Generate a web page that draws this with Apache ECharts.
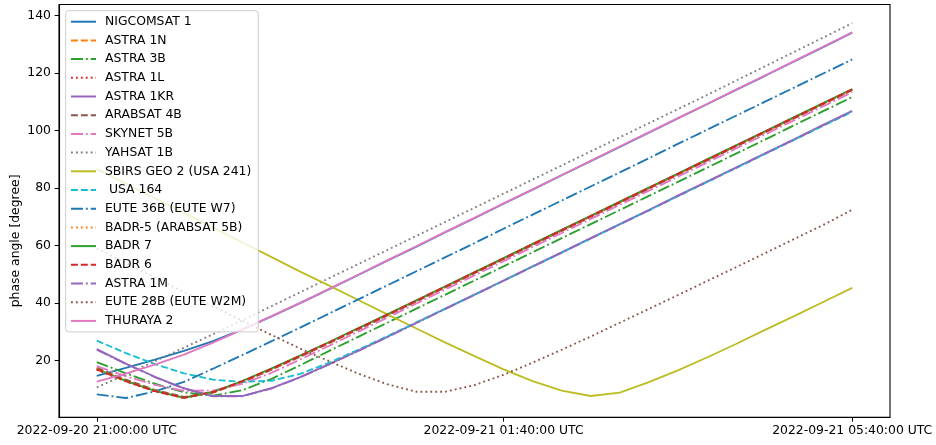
<!DOCTYPE html>
<html><head><meta charset="utf-8">
<script src="https://cdn.jsdelivr.net/npm/echarts@6/dist/echarts.min.js"></script>
<style>html,body{margin:0;padding:0;background:#fff}#c{width:936px;height:445px}</style>
</head><body><div id="c"></div>
<script>
// minutes since 2022-09-20 21:00:00 UTC
const minutes = [0,20,40,60,80,100,120,140,160,180,200,220,240,260,280,300,320,340,360,380,400,420,440,460,480,500,520];
const xTickValues = [0,280,520];
const xTickLabels = ['2022-09-20 21:00:00 UTC','2022-09-21 01:40:00 UTC','2022-09-21 05:40:00 UTC'];
const yTickValues = [20,40,60,80,100,120,140];

const nigcomsat1 = [14.7,17.5,20.4,23.4,26.8,30.8,35.3,40.0,44.9,49.8,54.8,59.7,64.7,69.6,74.6,79.5,84.5,89.4,94.4,99.3,104.3,109.2,114.2,119.1,124.1,129.1,134.1];
const astra1n = [17.3,13.2,9.6,7.2,9.0,12.7,17.0,21.6,26.3,31.1,35.9,40.8,45.7,50.6,55.5,60.4,65.3,70.2,75.1,80.0,84.9,89.8,94.7,99.6,104.5,109.4,114.3];
const astra3b = [19.5,15.6,12.0,9.0,7.8,9.7,13.6,18.4,23.4,28.3,33.2,38.1,43.0,47.9,52.8,57.7,62.6,67.5,72.4,77.3,82.2,87.1,92.0,96.9,101.9,106.8,111.7];
const astra1l = [16.8,12.8,9.3,7.0,9.0,12.7,17.0,21.6,26.3,31.1,35.9,40.8,45.7,50.6,55.5,60.4,65.3,70.2,75.1,80.0,84.9,89.8,94.7,99.6,104.5,109.4,114.3];
const astra1kr = [24.0,19.0,14.4,10.4,7.7,7.7,10.4,14.3,18.8,23.5,28.3,33.2,38.1,43.0,47.9,52.8,57.7,62.6,67.5,72.4,77.4,82.3,87.2,92.1,97.0,102.0,106.9];
const arabsat4b = [17.5,13.4,9.8,7.4,8.9,12.5,16.8,21.4,26.1,30.9,35.7,40.6,45.5,50.4,55.3,60.2,65.1,70.0,74.9,79.8,84.7,89.6,94.5,99.4,104.3,109.2,114.1];
const skynet5b = [18.1,14.6,11.6,9.5,9.6,11.9,15.7,20.4,25.2,30.1,35.0,39.9,44.8,49.7,54.6,59.5,64.4,69.3,74.2,79.1,84.0,88.9,93.8,98.7,103.6,108.5,113.4];
const yahsat1b = [10.7,15.2,19.8,24.5,29.2,34.0,38.9,43.8,48.7,53.6,58.5,63.4,68.3,73.2,78.1,83.0,87.9,92.8,97.7,102.6,107.5,112.4,117.4,122.4,127.4,132.4,137.4];
const sbirsGeo2 = [86.7,81.6,76.5,71.4,66.3,61.2,56.1,51.0,46.1,41.1,36.1,31.2,26.3,21.6,17.0,12.9,9.6,7.7,8.9,12.5,16.6,21.1,25.8,30.7,35.5,40.4,45.3];
const usa164 = [27.0,22.6,18.8,15.6,13.4,12.6,13.0,15.4,19.3,23.8,28.5,33.3,38.1,42.9,47.8,52.7,57.6,62.5,67.4,72.3,77.2,82.1,87.0,91.9,96.8,101.7,106.6];
const eute36b = [8.3,7.0,9.3,12.6,17.2,21.9,26.7,31.5,36.4,41.3,46.2,51.1,56.0,60.9,65.9,70.8,75.7,80.6,85.5,90.4,95.4,100.3,105.2,110.1,115.0,119.9,124.8];
const badr5 = [17.2,13.1,9.6,7.2,9.0,12.7,17.0,21.6,26.3,31.1,35.9,40.8,45.7,50.6,55.5,60.4,65.3,70.2,75.1,80.0,84.9,89.8,94.7,99.6,104.5,109.4,114.3];
const badr7 = [17.1,13.0,9.5,7.1,9.1,12.9,17.2,21.8,26.5,31.3,36.1,41.0,45.9,50.8,55.7,60.6,65.5,70.4,75.3,80.2,85.1,90.0,94.9,99.8,104.7,109.6,114.5];
const badr6 = [17.0,12.9,9.4,7.1,9.1,12.8,17.1,21.7,26.4,31.2,36.0,40.9,45.8,50.7,55.6,60.5,65.4,70.3,75.2,80.1,85.0,89.9,94.8,99.7,104.6,109.5,114.4];
const astra1m = [23.8,18.9,14.3,10.3,7.6,7.6,10.3,14.2,18.7,23.4,28.2,33.1,38.0,42.9,47.8,52.7,57.6,62.5,67.4,72.3,77.3,82.2,87.1,92.0,96.9,101.9,106.8];
const eute28b = [59.0,54.0,48.9,43.9,38.9,33.9,29.0,24.2,19.8,15.5,11.8,9.2,9.2,11.5,15.1,19.3,23.8,28.4,33.2,38.0,42.8,47.7,52.5,57.4,62.3,67.2,72.5];
const thuraya2 = [12.7,15.5,18.6,22.1,26.3,30.8,35.4,40.1,45.0,49.9,54.9,59.8,64.8,69.7,74.7,79.6,84.6,89.5,94.5,99.4,104.4,109.3,114.3,119.2,124.2,129.2,134.2];

const seriesNames = ['NIGCOMSAT 1','ASTRA 1N','ASTRA 3B','ASTRA 1L','ASTRA 1KR','ARABSAT 4B','SKYNET 5B','YAHSAT 1B','SBIRS GEO 2 (USA 241)',' USA 164','EUTE 36B (EUTE W7)','BADR-5 (ARABSAT 5B)','BADR 7','BADR 6','ASTRA 1M','EUTE 28B (EUTE W2M)','THURAYA 2'];
const seriesValues = [nigcomsat1,astra1n,astra3b,astra1l,astra1kr,arabsat4b,skynet5b,yahsat1b,sbirsGeo2,usa164,eute36b,badr5,badr7,badr6,astra1m,eute28b,thuraya2];

// styles
const colors = ['#1f77b4','#ff7f0e','#2ca02c','#d62728','#9467bd','#8c564b','#e377c2','#7f7f7f','#bcbd22','#17becf','#1f77b4','#ff7f0e','#2ca02c','#d62728','#9467bd','#8c564b','#e377c2'];
const DASH = [6.9,3.0], DASHDOT = [11.9,3.0,1.86,3.0], DOT = [1.86,3.07];
const dashes = ['solid',DASH,DASHDOT,DOT,'solid',DASH,DASHDOT,DOT,'solid',DASH,DASHDOT,DOT,'solid',DASH,DASHDOT,DOT,'solid'];
const FONT = 'DejaVu Sans';
const FS = 12.4;

const series = seriesNames.map((name, i) => ({
  name: name,
  type: 'line',
  data: minutes.map((m, j) => [m, seriesValues[i][j]]),
  symbol: 'none',
  showSymbol: false,
  smooth: false,
  animation: false,
  color: colors[i],
  lineStyle: { color: colors[i], width: 1.86, type: dashes[i], cap: 'butt' },
  z: 2 + i * 0.01
}));

const chart = echarts.init(document.getElementById('c'), null, { renderer: 'canvas' });
chart.setOption({
  animation: false,
  backgroundColor: '#ffffff',
  textStyle: { fontFamily: FONT },
  grid: { left: 59, right: 46, top: 4.5, bottom: 27.7, show: true, borderColor: '#000', borderWidth: 1.1, backgroundColor: 'transparent', containLabel: false, outerBoundsMode: 'none' },
  xAxis: {
    type: 'value', min: -26, max: 546,
    splitLine: { show: false },
    axisLine: { show: true, onZero: false, lineStyle: { color: '#000', width: 1.1 } },
    axisTick: { show: true, customValues: xTickValues, length: 4.3, lineStyle: { color: '#000', width: 1 } },
    axisLabel: { show: true, customValues: xTickValues, margin: 7, color: '#000', fontFamily: FONT, fontSize: FS,
      formatter: v => { const k = xTickValues.indexOf(v); return k >= 0 ? xTickLabels[k] : ''; } }
  },
  yAxis: {
    type: 'value', min: 0.3, max: 143.9,
    name: 'phase angle [degree]', nameLocation: 'middle', nameGap: 37, nameMoveOverlap: false,
    nameTextStyle: { color: '#000', fontFamily: FONT, fontSize: FS, padding: [0, 60, 0, 0] },
    splitLine: { show: false },
    axisLine: { show: true, onZero: false, lineStyle: { color: '#000', width: 1.1 } },
    axisTick: { show: true, customValues: yTickValues, length: 4.3, lineStyle: { color: '#000', width: 1 } },
    axisLabel: { show: true, customValues: yTickValues, margin: 8, color: '#000', fontFamily: FONT, fontSize: FS }
  },
  legend: {
    show: true, orient: 'vertical', left: 65.7, top: 10.7, z: 20,
    data: seriesNames,
    itemWidth: 25, itemHeight: 14, itemGap: 4.7,
    padding: [4, 7, 4, 4.3],
    itemStyle: { opacity: 0 },
    backgroundColor: 'rgba(255,255,255,0.8)', borderColor: '#cccccc', borderWidth: 1, borderRadius: 3,
    textStyle: { color: '#000', fontFamily: FONT, fontSize: FS, lineHeight: 14, padding: [0, 0, 0, 4] },
    selectedMode: false
  },
  series: series
});
</script></body></html>
